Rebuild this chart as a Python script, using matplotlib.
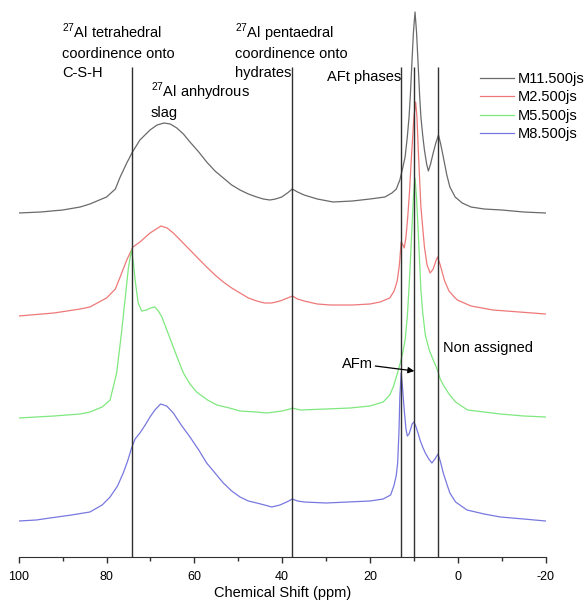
import matplotlib
matplotlib.use("Agg")
import matplotlib.pyplot as plt
from matplotlib.ticker import MultipleLocator

plt.rcParams['font.family'] = ['Liberation Sans', 'DejaVu Sans']
plt.rcParams['mathtext.fontset'] = 'custom'
plt.rcParams['mathtext.rm'] = 'Liberation Sans'
plt.rcParams['axes.unicode_minus'] = False

# ---------------- data (stacked intensities, arbitrary units) ----------------
m11_ppm = [100, 95, 90, 86, 83.8, 80, 78, 76.9, 75.4, 74.1, 72.4, 70.1, 68.5, 66.9, 65.5,
           64, 62.5, 61, 59, 57.2, 55.3, 53.4, 51.5, 49.6, 47.7, 45.8, 44.3, 42.8, 41.5,
           40.1, 38.8, 37.7, 36.5, 35, 32, 28.4, 24, 20, 16.6, 15, 14, 13.2, 12.6, 12.0,
           11.5, 11.1, 10.8, 10.5, 10.1, 9.74, 9.4, 9.0, 8.7, 8.4, 8.0, 7.6, 7.1, 6.7,
           6.2, 5.6, 5.0, 4.4, 3.9, 3.3, 2.5, 1.8, 0.6, -1, -3, -6, -10, -15, -20]
m11_int = [344, 345, 347, 350, 353, 360, 368, 380, 394, 405, 417, 427, 432, 434, 433,
           429, 423, 415, 405, 395, 386, 379, 372, 367, 363, 360, 358, 357, 358,
           360, 364, 368, 365, 362, 358, 355, 356, 358, 360, 364, 368, 377, 388, 400,
           420, 440, 462, 490, 525, 545, 525, 490, 462, 440, 422, 407, 393, 386,
           393, 404, 414, 422, 413, 400, 382, 370, 360, 354, 350, 348, 347, 345, 344]

m2_ppm = [100, 92, 86, 83.8, 80, 78, 76.9, 75.4, 74, 72.4, 70.1, 67.6, 66.2, 64.8, 63,
          61, 59, 57.2, 55.3, 53.4, 51.5, 49.6, 47.7, 45.8, 44, 42.4, 40.5, 38.2, 37.7,
          36.5, 35, 32, 29, 24, 20, 17.7, 15.5, 14.5, 13.8, 13.3, 12.9, 12.6, 12.2,
          11.8, 11.4, 11.0, 10.6, 10.0, 9.6, 9.3, 9.0, 8.7, 8.4, 8.0, 7.6, 7.0, 6.3,
          5.6, 5.0, 4.6, 4.0, 3.0, 2.0, 0.8, 0.1, -3, -8, -14, -20]
m2_int = [241, 244, 248, 250, 259, 268, 280, 297, 310, 315, 324, 331, 329, 324, 316,
          307, 298, 290, 282, 275, 269, 264, 259, 256, 254, 254, 256, 260, 261,
          258, 256, 253, 252, 252, 253, 255, 259, 266, 276, 292, 315, 313, 309,
          320, 340, 365, 397, 440, 455, 440, 407, 378, 350, 330, 310, 292, 284,
          288, 296, 300, 292, 276, 266, 260, 257, 251, 247, 245, 243]

m5_ppm = [100, 92, 86, 83.8, 81, 79.2, 77.7, 76.6, 75.8, 75.0, 74.3, 73.9, 73.5, 72.8,
          72.0, 70.9, 70.0, 69.0, 68.2, 67.4, 66.1, 64.8, 63.6, 62.5, 61, 59.5, 57,
          54.9, 52, 49.6, 46, 43.5, 40, 38.2, 37.7, 35.9, 30, 24.5, 20, 17, 15.5,
          14.7, 14, 13.1, 12.5, 12, 11.5, 11.1, 10.8, 10.5, 10.1, 9.75, 9.4, 9.0,
          8.7, 8.4, 8.0, 7.4, 6.5, 5.6, 4.9, 4.5, 4.0, 3.3, 2.0, 0.5, -2.2, -6,
          -9.7, -15, -20]
m5_int = [139, 141, 143, 145, 150, 157, 184, 224, 257, 290, 307, 295, 277, 254,
          246, 247, 249, 250, 246, 240, 225, 210, 196, 184, 173, 165, 157,
          152, 149, 146, 145, 144, 146, 148, 149, 147, 148, 149, 151, 155, 162,
          170, 180, 194, 205, 217, 240, 270, 295, 324, 360, 379, 360, 324,
          295, 267, 245, 222, 207, 197, 190, 185, 178, 172, 163, 155, 147, 145,
          143, 141, 140]

m8_ppm = [100, 96, 92.9, 88, 83.8, 81, 79.2, 77.5, 76.2, 75.2, 74.3, 73.5, 72.4, 71.2,
          70.1, 69, 67.7, 66.3, 64.8, 63, 61, 59, 57.2, 55.3, 53.4, 51.5, 49.6, 47.7,
          45.8, 44, 42.4, 40.5, 38.5, 37.7, 36.5, 35, 30, 25, 20, 17, 15.3, 14.5, 14.0,
          13.7, 13.4, 13.2, 12.9, 12.6, 12.2, 11.8, 11.5, 11.1, 10.8, 10.4, 10.0, 9.5,
          9.0, 8.6, 8.0, 7.4, 6.6, 5.9, 5.2, 4.5, 4.0, 3.3, 2.5, 1.8, 0.5, -2.1, -6,
          -9.7, -15, -20]
m8_int = [36, 37, 39, 42, 45, 52, 60, 71, 84, 96, 109, 118, 124, 132,
          140, 147, 153, 151, 144, 132, 120, 107, 94, 84, 74, 66, 60, 56,
          54, 52, 50, 52, 56, 58, 56, 55, 54, 55, 56, 58, 62, 72, 82,
          94, 125, 160, 184, 170, 147, 128, 121, 123, 127, 133, 135, 130,
          123, 117, 110, 104, 98, 94, 98, 103, 96, 84, 73, 64, 55, 47, 43,
          40, 38, 36]

series_labels = ['M11.500js', 'M2.500js', 'M5.500js', 'M8.500js']
series_colors = ['#6a6a6a', '#ee7878', '#7fe87f', '#7878e0']

marker_ppm = [74.2, 37.7, 12.9, 9.9, 4.5]
marker_top = 490

xticks = [100, 80, 60, 40, 20, 0, -20]

# ---------------- figure ----------------
W, H = 588, 601
fig = plt.figure(figsize=(W / 100, H / 100), dpi=100)
ax = fig.add_axes([18.75 / W, 1 - 557 / H, (545.6 - 18.75) / W, (557 - 5) / H])

for xs, ys, lab, col in zip([m11_ppm, m2_ppm, m5_ppm, m8_ppm],
                            [m11_int, m2_int, m5_int, m8_int],
                            series_labels, series_colors):
    ax.plot(xs, ys, color=col, lw=0.9, label=lab)

ax.vlines(marker_ppm, 0, marker_top, color='#303030', lw=1.0)

ax.set_xlim(100, -20)
ax.set_ylim(0, 552)
ax.set_xticks(xticks)
ax.xaxis.set_minor_locator(MultipleLocator(10))
ax.tick_params(axis='x', which='major', direction='out', length=4.5, width=1,
               labelsize=9, pad=5.5, color='#303030')
ax.tick_params(axis='x', which='minor', direction='out', length=3, width=1, color='#303030')
ax.set_yticks([])
for s in ['left', 'right', 'top']:
    ax.spines[s].set_visible(False)
ax.spines['bottom'].set_color('#303030')
ax.set_xlabel('Chemical Shift (ppm)', fontsize=10.5, labelpad=2)

fs = 10.5
# annotations
ax.text(90.15, 519, r'$^{27}$Al tetrahedral', fontsize=fs, va='baseline', ha='left')
ax.text(90.15, 499, 'coordinence onto', fontsize=fs, va='baseline', ha='left')
ax.text(90.15, 480, 'C-S-H', fontsize=fs, va='baseline', ha='left')

ax.text(69.9, 460, r'$^{27}$Al anhydrous', fontsize=fs, va='baseline', ha='left')
ax.text(69.9, 440, 'slag', fontsize=fs, va='baseline', ha='left')

ax.text(50.7, 519, r'$^{27}$Al pentaedral', fontsize=fs, va='baseline', ha='left')
ax.text(50.7, 499, 'coordinence onto', fontsize=fs, va='baseline', ha='left')
ax.text(50.7, 480, 'hydrates', fontsize=fs, va='baseline', ha='left')

ax.text(29.8, 476, 'AFt phases', fontsize=fs, va='baseline', ha='left')
ax.text(3.4, 205, 'Non assigned', fontsize=fs, va='baseline', ha='left')
ax.text(26.4, 189, 'AFm', fontsize=fs, va='baseline', ha='left')
ax.annotate('', xy=(9.9, 186), xytext=(18.8, 191),
            arrowprops=dict(arrowstyle='-|>', color='black', lw=0.9,
                            mutation_scale=9, shrinkA=0, shrinkB=0))

fig.legend(loc='upper left', bbox_to_anchor=(480 / W, 1 - 72 / H),
           frameon=False, fontsize=fs, handlelength=2.3, handletextpad=0.3,
           labelspacing=0.3, borderpad=0, borderaxespad=0)

fig.savefig('out.png', dpi=100)
